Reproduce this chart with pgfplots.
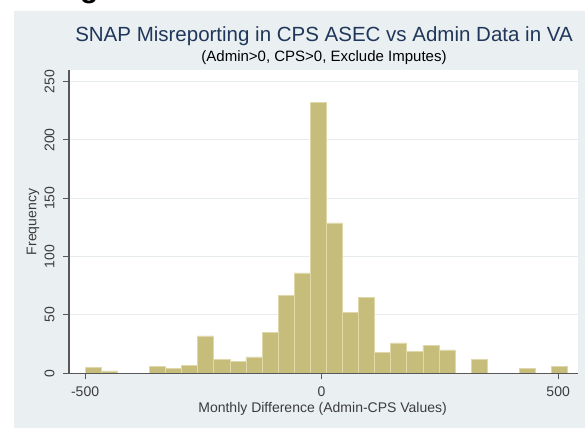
\documentclass[border=0pt]{standalone}
\usepackage{pgfplots}
\pgfplotsset{compat=1.18}
\usepackage{pgfplotstable}
\usepackage{fontspec}
\setmainfont{Liberation Sans}

\definecolor{stbg}{RGB}{234,240,242}
\definecolor{barfill}{RGB}{198,189,123}
\definecolor{baredge}{RGB}{222,216,170}
\definecolor{gridc}{RGB}{230,235,238}
\definecolor{axisc}{RGB}{88,88,88}
\definecolor{titlec}{RGB}{32,54,90}
\definecolor{labelc}{RGB}{60,60,60}

% histogram of monthly differences: bin centres (width 34) and counts
\pgfplotstableread{
center count
-483 5
-449 2
-347 6
-313 4
-279 7
-245 32
-211 12
-177 10
-143 14
-109 35
-75 67
-41 86
-7 232
27 129
61 52
95 65
129 18
163 26
197 19
231 24
265 20
333 12
435 4
503 6
}\histdata

\begin{document}
\begin{tikzpicture}
\useasboundingbox (0pt,0pt) rectangle (585pt,428pt);
\fill[white] (0pt,0pt) rectangle (585pt,428pt);
\fill[stbg] (14pt,0pt) rectangle (585pt,417pt);
\begin{scope}
  \clip (60pt,417pt) rectangle (120pt,428pt);
  \node[anchor=base west, inner sep=0pt, font=\fontsize{30}{30}\selectfont\bfseries] at (80pt,430pt) {g};
\end{scope}

\begin{axis}[
  at={(69pt,54.7pt)}, anchor=south west,
  width=509pt, height=303.3pt, scale only axis,
  xmin=-534, xmax=542, ymin=0, ymax=260,
  axis background/.style={fill=white},
  axis x line*=bottom, axis y line*=left,
  axis line style={axisc, line width=1.3pt},
  xtick={-500,0,500}, ytick={0,50,...,250},
  tick align=outside, major tick length=6pt,
  tick style={axisc, line width=1pt},
  ymajorgrids, grid style={gridc, line width=1pt},
  /pgf/number format/assume math mode=true,
  ticklabel style={font=\fontsize{14}{14}\selectfont, text=labelc},
  yticklabel style={rotate=90, anchor=south},
  yticklabel shift=5pt,
  xticklabel style={anchor=north},
  xticklabel shift=4pt,
  clip=false,
]
\addplot[ybar, bar width=34, fill=barfill, draw=baredge, line width=0.6pt]
  table[x=center, y=count] {\histdata};
\draw[axisc, line width=1.3pt] (axis cs:-534,0) -- (axis cs:542,0);
\end{axis}

\node[anchor=base, text=titlec, font=\fontsize{20.5}{20.5}\selectfont] at (324pt,386pt)
  {SNAP Misreporting in CPS ASEC vs Admin Data in VA};
\node[anchor=base, text=black, font=\fontsize{15}{15}\selectfont] at (324pt,366pt)
  {(Admin>0, CPS>0, Exclude Imputes)};
\node[anchor=base, text=labelc, font=\fontsize{14}{14}\selectfont] at (322.6pt,16pt)
  {Monthly Difference (Admin-CPS Values)};
\node[rotate=90, text=labelc, font=\fontsize{14}{14}\selectfont] at (33pt,206pt)
  {Frequency};
\end{tikzpicture}
\end{document}
